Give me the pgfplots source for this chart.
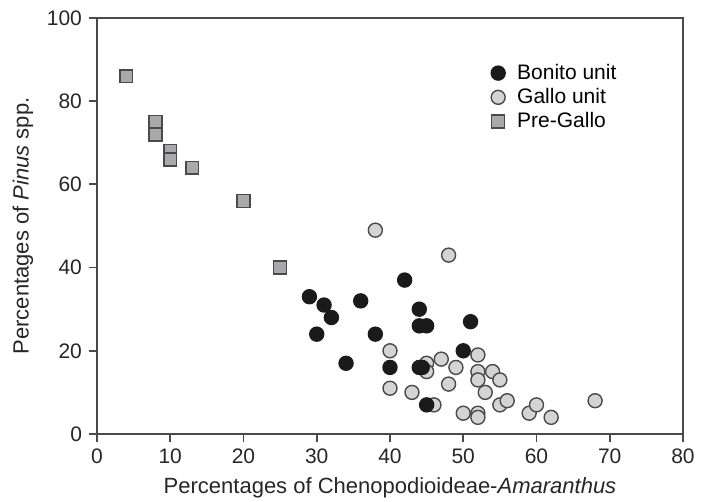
\documentclass[border=0pt]{standalone}
\usepackage{fontspec}
\setmainfont{Liberation Sans}
\usepackage{pgfplots}
\pgfplotsset{compat=1.18}
\definecolor{axgray}{HTML}{4A4A4A}
\definecolor{bonito}{HTML}{1A1A1A}
\definecolor{gallo}{HTML}{D4D4D4}
\definecolor{pregallo}{HTML}{A9A9AB}
\begin{document}
\begin{tikzpicture}
\useasboundingbox (-48.5pt,-34pt) rectangle (304.5pt,217pt);
\begin{axis}[at={(0,0)}, anchor=south west, scale only axis,
  width=293pt, height=208pt,
  xmin=0, xmax=80, ymin=0, ymax=100,
  xtick={0,10,...,80}, ytick={0,20,...,100},
  tick align=outside, major tick length=4pt,
  xtick pos=bottom, ytick pos=left,
  axis line style={axgray, line width=0.9pt},
  every tick/.style={axgray, line width=0.9pt},
  ticklabel style={font=\fontsize{10.5}{12}\selectfont, text=black!85},
  /pgf/number format/assume math mode=true,
  label style={font=\fontsize{11}{13}\selectfont, text=black!85},
  xlabel={Percentages of Chenopodioideae-\textit{Amaranthus}},
  ylabel={Percentages of \textit{Pinus} spp.},
  legend style={draw=none, fill=none, at={(0.672,0.9)}, anchor=north west,
    font=\fontsize{10.5}{12}\selectfont, row sep=-1pt, column sep=4pt, inner sep=0pt},
  legend cell align=left,
  clip=false]
\addlegendimage{only marks, mark=*, mark size=3.5pt, mark options={fill=bonito, draw=bonito, line width=0.7pt}}
\addlegendentry{Bonito unit}
\addlegendimage{only marks, mark=*, mark size=3.5pt, mark options={fill=gallo, draw=axgray, line width=0.7pt}}
\addlegendentry{Gallo unit}
\addlegendimage{only marks, mark=square*, mark size=3.2pt, mark options={fill=pregallo, draw=axgray, line width=0.7pt}}
\addlegendentry{Pre-Gallo}
% Gallo unit
\addplot[forget plot, only marks, mark=*, mark size=3.5pt, mark options={fill=gallo, draw=axgray, line width=0.7pt}] coordinates {
(38,49) (48,43) (40,20) (45,17) (45,15) (47,18) (49,16) (52,19) (52,15) (52,13)
(54,15) (55,13) (40,11) (43,10) (48,12) (53,10) (46,7) (50,5) (52,5) (52,4)
(55,7) (56,8) (59,5) (60,7) (62,4) (68,8)};
% Bonito unit
\addplot[forget plot, only marks, mark=*, mark size=3.5pt, mark options={fill=bonito, draw=bonito, line width=0.7pt}] coordinates {
(29,33) (31,31) (32,28) (30,24) (36,32) (38,24) (34,17) (42,37) (44,30) (44,26)
(45,26) (40,16) (44,16) (44.4,16) (45,7) (50,20) (51,27)};
% Pre-Gallo
\addplot[forget plot, only marks, mark=square*, mark size=3.2pt, mark options={fill=pregallo, draw=axgray, line width=0.7pt}] coordinates {
(4,86) (8,75) (8,72) (10,68) (10,66) (13,64) (20,56) (25,40)};
\end{axis}
\draw[axgray, line width=1pt] (0pt,208pt) -- (293pt,208pt) -- (293pt,0pt);
\end{tikzpicture}
\end{document}
